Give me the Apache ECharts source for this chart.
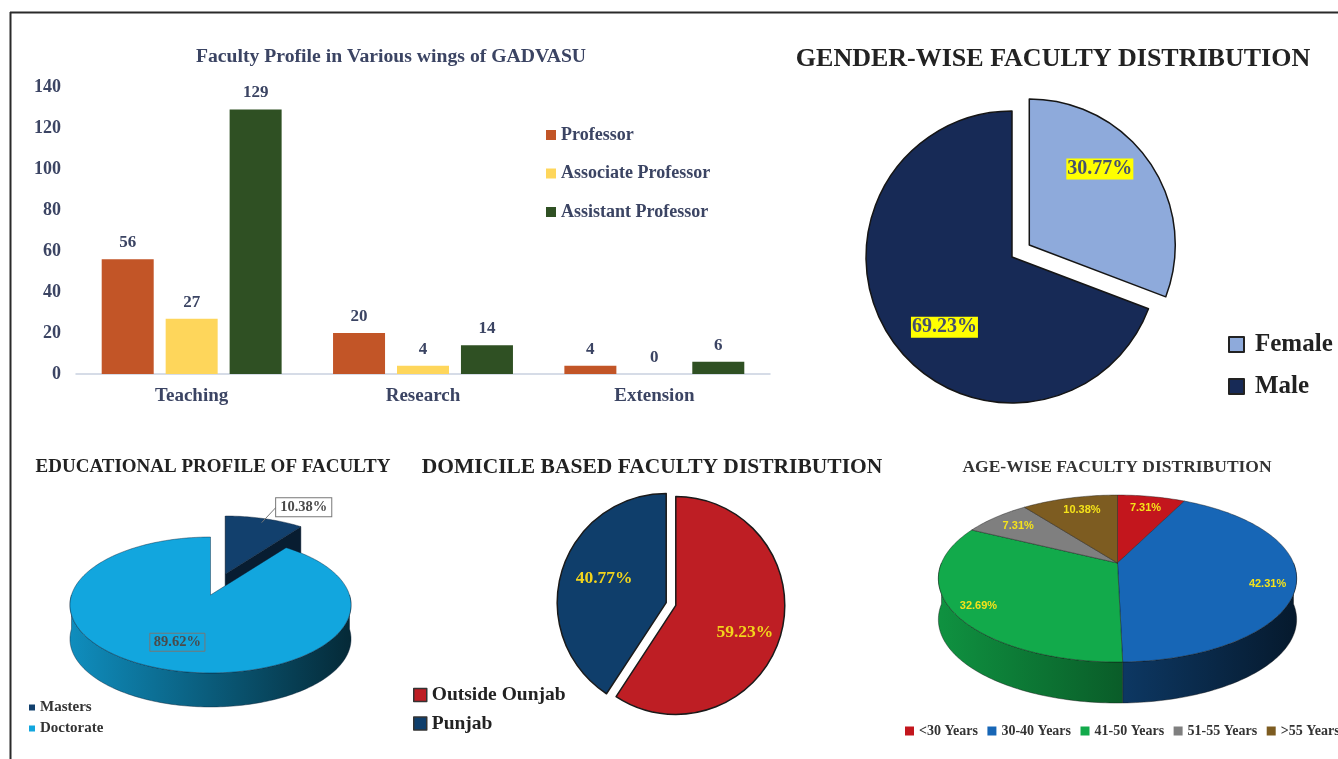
<!DOCTYPE html>
<html>
<head>
<meta charset="utf-8">
<script src="https://cdn.jsdelivr.net/npm/echarts@6/dist/echarts.min.js"></script>
<style>
  html, body { margin: 0; padding: 0; background: #fff; }
  #main { width: 1338px; height: 759px; }
</style>
</head>
<body>
<div id="main"></div>
<script>
// faculty per wing
var wings = ['Teaching', 'Research', 'Extension'];
var professor = [56, 20, 4];
var associateProfessor = [27, 4, 0];
var assistantProfessor = [129, 14, 6];
var yMin = 0, yMax = 140, yStep = 20;

// shares in %
var genderNames = ['Female', 'Male'];
var genderShare = [30.77, 69.23];

var eduNames = ['Masters', 'Doctorate'];
var eduShare = [10.38, 89.62];

var domicileNames = ['Outside Ounjab', 'Punjab'];
var domicileShare = [59.23, 40.77];

var ageNames = ['<30 Years', '30-40 Years', '41-50 Years', '51-55 Years', '>55 Years'];
var ageShare = [7.31, 42.31, 32.69, 7.31, 10.38];

var SERIF = 'Liberation Serif';
var SLATE = '#3b4463';

function shade(hex, k) {
  var n = parseInt(hex.slice(1), 16);
  var r = Math.round(((n >> 16) & 255) * k);
  var g = Math.round(((n >> 8) & 255) * k);
  var b = Math.round((n & 255) * k);
  return 'rgb(' + r + ',' + g + ',' + b + ')';
}

// tilted pie drawn with a custom series, one series per slice so the legend works
function pie3d(cfg) {
  var total = cfg.values.reduce(function (a, b) { return a + b; }, 0);
  var starts = [], acc = 0;
  cfg.values.forEach(function (v) { starts.push(acc / total * Math.PI * 2); acc += v; });

  function proj(phi, f, ox, oy) {
    var s = Math.sin(phi), t = -Math.cos(phi);
    var w = 1 / (1 - cfg.persp * t * f);
    return [cfg.cx + ox + cfg.rx * f * s * w, cfg.cy + oy + cfg.ry * f * t * w];
  }
  function arc(a, b, ox, oy, dz) {
    var pts = [], n = Math.max(2, Math.ceil((b - a) / 0.02));
    for (var k = 0; k <= n; k++) {
      var p = proj(a + (b - a) * k / n, 1, ox, oy);
      pts.push([p[0], p[1] + dz]);
    }
    return pts;
  }

  return cfg.names.map(function (name, i) {
    var col = cfg.colors[i];
    return {
      type: 'custom',
      name: name,
      coordinateSystem: 'none',
      silent: true,
      itemStyle: { color: col },
      data: [cfg.values[i]],
      renderItem: function () {
        var a0 = starts[i];
        var a1 = a0 + cfg.values[i] / total * Math.PI * 2;
        var am = (a0 + a1) / 2;
        var ex = cfg.explode[i] || 0;
        var o = ex ? proj(am, ex, 0, 0) : [cfg.cx, cfg.cy];
        var ox = o[0] - cfg.cx, oy = o[1] - cfg.cy;
        var c = [cfg.cx + ox, cfg.cy + oy];
        var kids = [];
        var sideFill = new echarts.graphic.LinearGradient(cfg.cx - cfg.rx, 0, cfg.cx + cfg.rx, 0, [
          { offset: 0, color: shade(col, 0.85) },
          { offset: 1, color: shade(col, 0.25) }
        ], true);

        var lo = Math.max(a0, Math.PI / 2), hi = Math.min(a1, Math.PI * 1.5);
        if (lo < hi) {
          var top = arc(lo, hi, ox, oy, 0);
          var bot = arc(lo, hi, ox, oy, cfg.depth).reverse();
          kids.push({ type: 'polygon', z2: 1, shape: { points: top.concat(bot) },
            style: { fill: sideFill, stroke: cfg.edge, lineWidth: 0.6 } });
        }
        if (ex) {
          [a0, a1].forEach(function (a) {
            var r = proj(a, 1, ox, oy);
            kids.push({ type: 'polygon', z2: 2,
              shape: { points: [c, r, [r[0], r[1] + cfg.depth], [c[0], c[1] + cfg.depth]] },
              style: { fill: shade(col, 0.45), stroke: cfg.edge, lineWidth: 0.6 } });
          });
        }
        kids.push({ type: 'polygon', z2: 10, shape: { points: [c].concat(arc(a0, a1, ox, oy, 0)) },
          style: { fill: col, stroke: cfg.edge, lineWidth: 0.6 } });

        var lp = proj(am, cfg.labelFrac[i], ox, oy);
        var sh = cfg.labelShift[i] || [0, 0];
        var lx = lp[0] + sh[0], ly = lp[1] + sh[1];
        var lead = cfg.leader && cfg.leader[i];
        if (lead) {
          var rp = proj(am, 0.92, ox, oy);
          kids.push({ type: 'line', z2: 19, shape: { x1: rp[0], y1: rp[1], x2: lx, y2: ly },
            style: { stroke: '#777', lineWidth: 1 } });
        }
        var ls = cfg.labelStyle;
        kids.push({
          type: 'text', z2: 20, x: lx, y: ly,
          style: {
            text: cfg.values[i].toFixed(2) + '%',
            fill: ls.color, fontSize: ls.fontSize, fontWeight: 'bold', fontFamily: ls.fontFamily,
            align: lead ? 'left' : 'center', verticalAlign: 'middle',
            backgroundColor: lead ? '#fff' : ls.backgroundColor,
            borderColor: ls.borderColor, borderWidth: ls.borderColor ? 1 : 0,
            padding: ls.padding || 0
          }
        });
        return { type: 'group', children: kids };
      }
    };
  });
}

var chart = echarts.init(document.getElementById('main'));

var genderShift = [[8, -33], [-5, 27]];
var domicileShift = [[14, 11], [-7, -8]];

var option = {
  animation: false,
  textStyle: { fontFamily: SERIF },
  graphic: [
    { type: 'line', shape: { x1: 10, y1: 12.5, x2: 1338, y2: 12.5 }, style: { stroke: '#2a2a2a', lineWidth: 2 } },
    { type: 'line', shape: { x1: 10.5, y1: 12, x2: 10.5, y2: 759 }, style: { stroke: '#2a2a2a', lineWidth: 2 } },
    { type: 'text', x: 391, y: 57, style: { text: 'Faculty Profile in Various wings of GADVASU', fill: SLATE,
      fontSize: 19.7, fontWeight: 'bold', fontFamily: SERIF, align: 'center', verticalAlign: 'middle' } },
    { type: 'text', x: 1053, y: 59, style: { text: 'GENDER-WISE FACULTY DISTRIBUTION', fill: '#222',
      fontSize: 26, fontWeight: 'bold', fontFamily: SERIF, align: 'center', verticalAlign: 'middle' } },
    { type: 'text', x: 213, y: 467, style: { text: 'EDUCATIONAL PROFILE OF FACULTY', fill: '#222',
      fontSize: 19, fontWeight: 'bold', fontFamily: SERIF, align: 'center', verticalAlign: 'middle' } },
    { type: 'text', x: 652, y: 467, style: { text: 'DOMICILE BASED FACULTY DISTRIBUTION', fill: '#222',
      fontSize: 21.5, fontWeight: 'bold', fontFamily: SERIF, align: 'center', verticalAlign: 'middle' } },
    { type: 'text', x: 1117, y: 467, style: { text: 'AGE-WISE FACULTY DISTRIBUTION', fill: '#333',
      fontSize: 17.5, fontWeight: 'bold', fontFamily: SERIF, align: 'center', verticalAlign: 'middle' } }
  ],
  legend: [
    {
      data: ['Professor', 'Associate Professor', 'Assistant Professor'],
      orient: 'vertical', left: 546, top: 126, itemGap: 20.5, padding: 0,
      itemWidth: 10, itemHeight: 10, icon: 'rect',
      textStyle: { fontSize: 18, fontWeight: 'bold', color: SLATE, fontFamily: SERIF }
    },
    {
      data: genderNames,
      orient: 'vertical', left: 1228, top: 332, itemGap: 17, padding: 0,
      itemWidth: 15, itemHeight: 15, icon: 'rect',
      itemStyle: { borderColor: '#222', borderWidth: 2 },
      textStyle: { fontSize: 25, fontWeight: 'bold', color: '#222', fontFamily: SERIF, padding: [0, 0, 0, 6] }
    },
    {
      data: eduNames,
      orient: 'vertical', left: 29, top: 700, itemGap: 6, padding: 0,
      itemWidth: 6, itemHeight: 6, icon: 'rect',
      textStyle: { fontSize: 15, fontWeight: 'bold', color: '#333', fontFamily: SERIF }
    },
    {
      data: domicileNames,
      orient: 'vertical', left: 413, top: 685, itemGap: 8.5, padding: 0,
      itemWidth: 13, itemHeight: 13, icon: 'rect',
      itemStyle: { borderColor: '#333', borderWidth: 1.5 },
      textStyle: { fontSize: 19.5, fontWeight: 'bold', color: '#222', fontFamily: SERIF }
    },
    {
      data: ageNames,
      orient: 'horizontal', left: 905, top: 724, width: 700, itemGap: 9.5, padding: 0,
      itemWidth: 9, itemHeight: 9, icon: 'rect',
      textStyle: { fontSize: 14, fontWeight: 'bold', color: '#333', fontFamily: SERIF }
    }
  ],
  grid: { left: 76, right: 568, top: 87, bottom: 385 },
  xAxis: {
    type: 'category', data: wings,
    axisLine: { lineStyle: { color: '#c9d1e0', width: 1.5 } },
    axisTick: { show: false },
    axisLabel: { interval: 0, margin: 13, fontSize: 19, fontWeight: 'bold', color: SLATE, fontFamily: SERIF }
  },
  yAxis: {
    type: 'value', min: yMin, max: yMax, interval: yStep,
    axisLine: { show: false }, axisTick: { show: false }, splitLine: { show: false },
    axisLabel: { margin: 15, fontSize: 18, fontWeight: 'bold', color: SLATE, fontFamily: SERIF }
  },
  series: [
    { name: 'Professor', data: professor, color: '#c25527' },
    { name: 'Associate Professor', data: associateProfessor, color: '#fed65b' },
    { name: 'Assistant Professor', data: assistantProfessor, color: '#2f5023' }
  ].map(function (s) {
    return {
      type: 'bar', name: s.name, data: s.data, barWidth: 52, barGap: '23%',
      itemStyle: { color: s.color },
      label: { show: true, position: 'top', distance: 8, fontSize: 17, fontWeight: 'bold', color: SLATE, fontFamily: SERIF }
    };
  }).concat([
    {
      type: 'pie', name: 'Gender', center: [1012, 257], radius: 146,
      startAngle: 90, clockwise: true, selectedMode: 'multiple', selectedOffset: 21,
      silent: true,
      itemStyle: { borderColor: '#151515', borderWidth: 1.5 },
      labelLine: { show: false },
      data: genderNames.map(function (n, i) {
        return {
          name: n, value: genderShare[i], selected: i === 0,
          itemStyle: { color: ['#8eaadb', '#172a56'][i] },
          label: { offset: genderShift[i] },
          select: { label: { offset: genderShift[i] } }
        };
      }),
      label: {
        show: true, position: 'inside', formatter: '{c}%',
        fontSize: 20, fontWeight: 'bold', color: '#45506e', fontFamily: SERIF,
        backgroundColor: '#ffff00', padding: [1, 1, 0, 1]
      }
    },
    {
      type: 'pie', name: 'Domicile', center: [671, 604], radius: 109,
      startAngle: 90, clockwise: true, selectedMode: 'multiple', selectedOffset: 5,
      silent: true,
      itemStyle: { borderColor: '#1a1a1a', borderWidth: 1.5 },
      labelLine: { show: false },
      data: domicileNames.map(function (n, i) {
        return {
          name: n, value: domicileShare[i], selected: true,
          itemStyle: { color: ['#be1e24', '#0f3e6b'][i] },
          label: { offset: domicileShift[i] },
          select: { label: { offset: domicileShift[i] } }
        };
      }),
      label: {
        show: true, position: 'inside', formatter: '{c}%',
        fontSize: 17.5, fontWeight: 'bold', color: '#f2d41c', fontFamily: SERIF
      }
    }
  ]).concat(pie3d({
    names: eduNames, values: eduShare, colors: ['#12406d', '#12a6de'],
    cx: 210.5, cy: 595, rx: 139, ry: 66.5, persp: 0.147, depth: 34,
    explode: [0.35, 0], edge: 'rgba(10,30,50,0.7)',
    labelFrac: [1.2, 0.6], labelShift: [[5, -2], [-4, 6]], leader: [true, false],
    labelStyle: { color: '#4a4a4a', fontSize: 14.5, fontFamily: SERIF, borderColor: '#777', padding: [2, 4, 1, 4] }
  })).concat(pie3d({
    names: ageNames, values: ageShare, colors: ['#c3161d', '#1766b6', '#12aa4b', '#7f7f7f', '#7d5c21'],
    cx: 1117.5, cy: 563, rx: 176, ry: 80.6, persp: 0.186, depth: 41,
    explode: [0, 0, 0, 0, 0], edge: 'rgba(20,20,20,0.7)',
    labelFrac: [0.8, 0.8, 0.8, 0.8, 0.8], labelShift: [[0, 0], [8, 7], [-10, 5], [0, 0], [4, 1]],
    labelStyle: { color: '#f5e31a', fontSize: 11, fontFamily: 'Liberation Sans' }
  }))
};

chart.setOption(option);
</script>
</body>
</html>
